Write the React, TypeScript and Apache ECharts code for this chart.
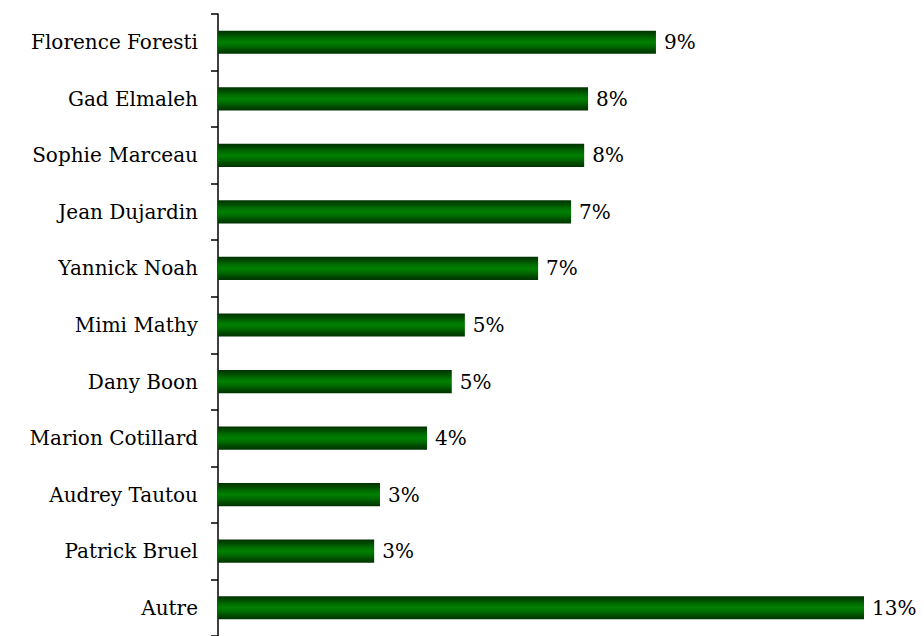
import React, { useEffect, useRef } from "react";
import * as echarts from "echarts";

const categories = [
  "Florence Foresti",
  "Gad Elmaleh",
  "Sophie Marceau",
  "Jean Dujardin",
  "Yannick Noah",
  "Mimi Mathy",
  "Dany Boon",
  "Marion Cotillard",
  "Audrey Tautou",
  "Patrick Bruel",
  "Autre",
];
const values = [9.03, 7.63, 7.55, 7.28, 6.6, 5.09, 4.82, 4.31, 3.34, 3.22, 13.32];

export default function App() {
  const ref = useRef<HTMLDivElement>(null);
  useEffect(() => {
    const chart = echarts.init(ref.current!, null, { renderer: "svg" });
    const barColor = new echarts.graphic.LinearGradient(0, 0, 0, 1, [
      { offset: 0, color: "#003300" },
      { offset: 0.18, color: "#004d00" },
      { offset: 0.32, color: "#006a00" },
      { offset: 0.5, color: "#008000" },
      { offset: 0.68, color: "#006a00" },
      { offset: 0.82, color: "#004d00" },
      { offset: 1, color: "#003300" },
    ]);
    chart.setOption({
      animation: false,
      grid: { left: 210, top: 6, bottom: 0, right: 27, containLabel: false },
      xAxis: {
        type: "value",
        min: 0,
        max: 14,
        show: false,
      },
      yAxis: {
        type: "category",
        inverse: true,
        data: categories,
        axisLine: { show: true, lineStyle: { color: "#000", width: 1.5 } },
        axisTick: { show: true, length: 7, lineStyle: { color: "#000", width: 1.5 } },
        axisLabel: {
          color: "#000",
          fontFamily: "DejaVu Serif",
          fontSize: 20,
          margin: 20,
        },
        splitLine: { show: false },
      },
      series: [
        {
          type: "bar",
          data: values,
          barWidth: "41%",
          itemStyle: { color: barColor },
          label: {
            show: true,
            position: "right",
            distance: 8,
            color: "#000",
            fontFamily: "DejaVu Serif",
            fontSize: 20,
            formatter: (p: any) => Math.round(p.value) + "%",
          },
        },
      ],
    });
    return () => chart.dispose();
  }, []);
  return <div ref={ref} style={{ width: 916, height: 628 }} />;
}
